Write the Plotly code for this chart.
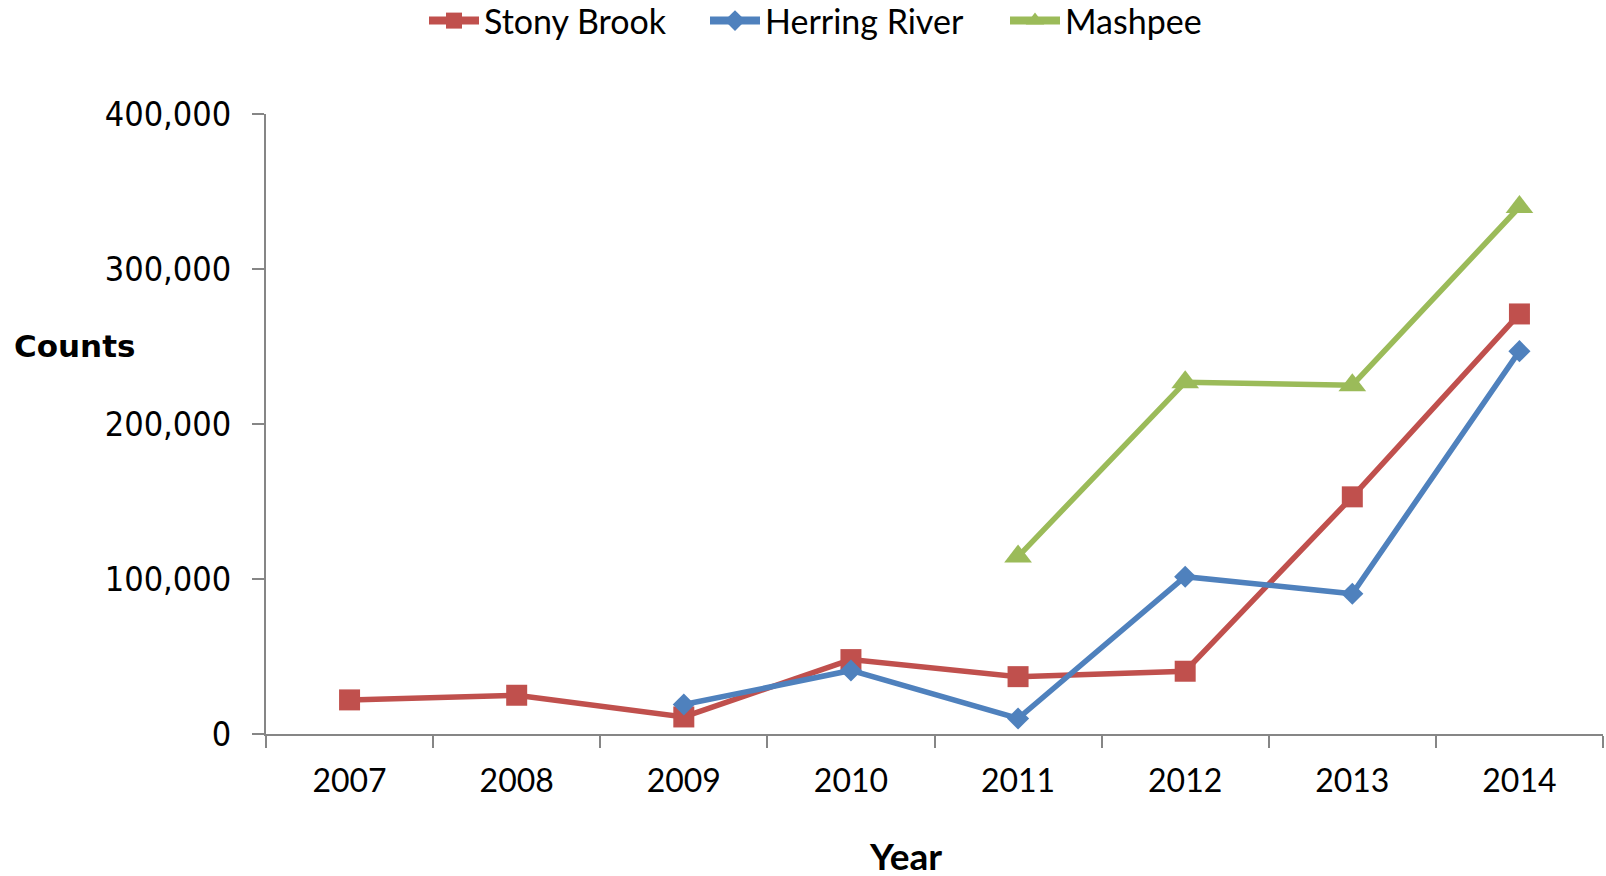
import plotly.graph_objects as go

years = ["2007", "2008", "2009", "2010", "2011", "2012", "2013", "2014"]

stony_brook = [22000, 25000, 11000, 48000, 37000, 40500, 153000, 271000]
herring_years = ["2009", "2010", "2011", "2012", "2013", "2014"]
herring_river = [19000, 41000, 10000, 101500, 90500, 247000]
mashpee_years = ["2011", "2012", "2013", "2014"]
mashpee = [114500, 227000, 225000, 340000]

y_ticks = [0, 100000, 200000, 300000, 400000]

RED = "#C0504D"
BLUE = "#4F81BD"
GREEN = "#9BBB59"
AXIS = "#868686"
LABEL_FONT = "Lato"
NUM_FONT = "DejaVu Sans Condensed"

PLOT_LEFT, PLOT_WIDTH = 266, 1337

series = [
    # name, x, y, colour, symbol, marker size, legend id, legend left edge (px)
    ("Stony Brook", years, stony_brook, RED, "square", 21, "legend", 424),
    ("Herring River", herring_years, herring_river, BLUE, "diamond", 17, "legend2", 705),
    ("Mashpee", mashpee_years, mashpee, GREEN, "triangle-up", 24, "legend3", 1005),
]

fig = go.Figure()
legend_layouts = {}
for name, xs, ys, colour, symbol, msize, leg, left in series:
    fig.add_trace(go.Scatter(
        x=xs, y=ys, name=name, mode="lines+markers", showlegend=False,
        line=dict(color=colour, width=5.5),
        marker=dict(symbol=symbol, size=msize, color=colour),
    ))
    # legend key with a heavier line; its single point sits below the y range
    fig.add_trace(go.Scatter(
        x=[years[0]], y=[-1e6], name=name, mode="lines+markers", legend=leg,
        line=dict(color=colour, width=8),
        marker=dict(symbol=symbol, size=msize, color=colour),
        hoverinfo="skip",
    ))
    legend_layouts[leg] = dict(
        x=(left - PLOT_LEFT) / PLOT_WIDTH, xanchor="left",
        yref="container", y=1 - 21 / 876, yanchor="middle",
        font=dict(family=LABEL_FONT, size=34, color="black"),
        itemwidth=50, bgcolor="rgba(0,0,0,0)",
    )

fig.update_layout(
    width=1606, height=876,
    margin=dict(l=PLOT_LEFT, r=3, t=114, b=142, autoexpand=False),
    paper_bgcolor="white", plot_bgcolor="white",
    showlegend=True,
    xaxis=dict(
        type="category", categoryorder="array", categoryarray=years,
        range=[-0.5, 7.5], tickson="boundaries",
        showline=True, linecolor=AXIS, linewidth=2,
        ticks="outside", ticklen=12, tickwidth=2, tickcolor=AXIS,
        showgrid=False, zeroline=False,
        tickfont=dict(family=LABEL_FONT, size=32, color="black"),
        ticklabelstandoff=18,
    ),
    yaxis=dict(
        range=[0, 400000], tickvals=y_ticks, tickformat=",",
        showline=True, linecolor=AXIS, linewidth=2,
        ticks="outside", ticklen=12, tickwidth=2, tickcolor=AXIS,
        showgrid=False, zeroline=False,
        tickfont=dict(family=NUM_FONT, size=34, color="black"),
        ticklabelstandoff=14,
    ),
    annotations=[
        dict(text="<b>Counts</b>", xref="paper", yref="paper",
             x=-PLOT_LEFT / PLOT_WIDTH, xanchor="left", y=(734 - 346) / 620, yanchor="middle",
             xshift=12, showarrow=False,
             font=dict(family="DejaVu Sans", size=31, color="black")),
        dict(text="<b>Year</b>", xref="paper", yref="paper",
             x=(905 - PLOT_LEFT) / PLOT_WIDTH, xanchor="center", y=-(855 - 734) / 620, yanchor="middle",
             showarrow=False,
             font=dict(family=LABEL_FONT, size=37, color="black")),
    ],
    **legend_layouts,
)

fig.write_html("out.html")
